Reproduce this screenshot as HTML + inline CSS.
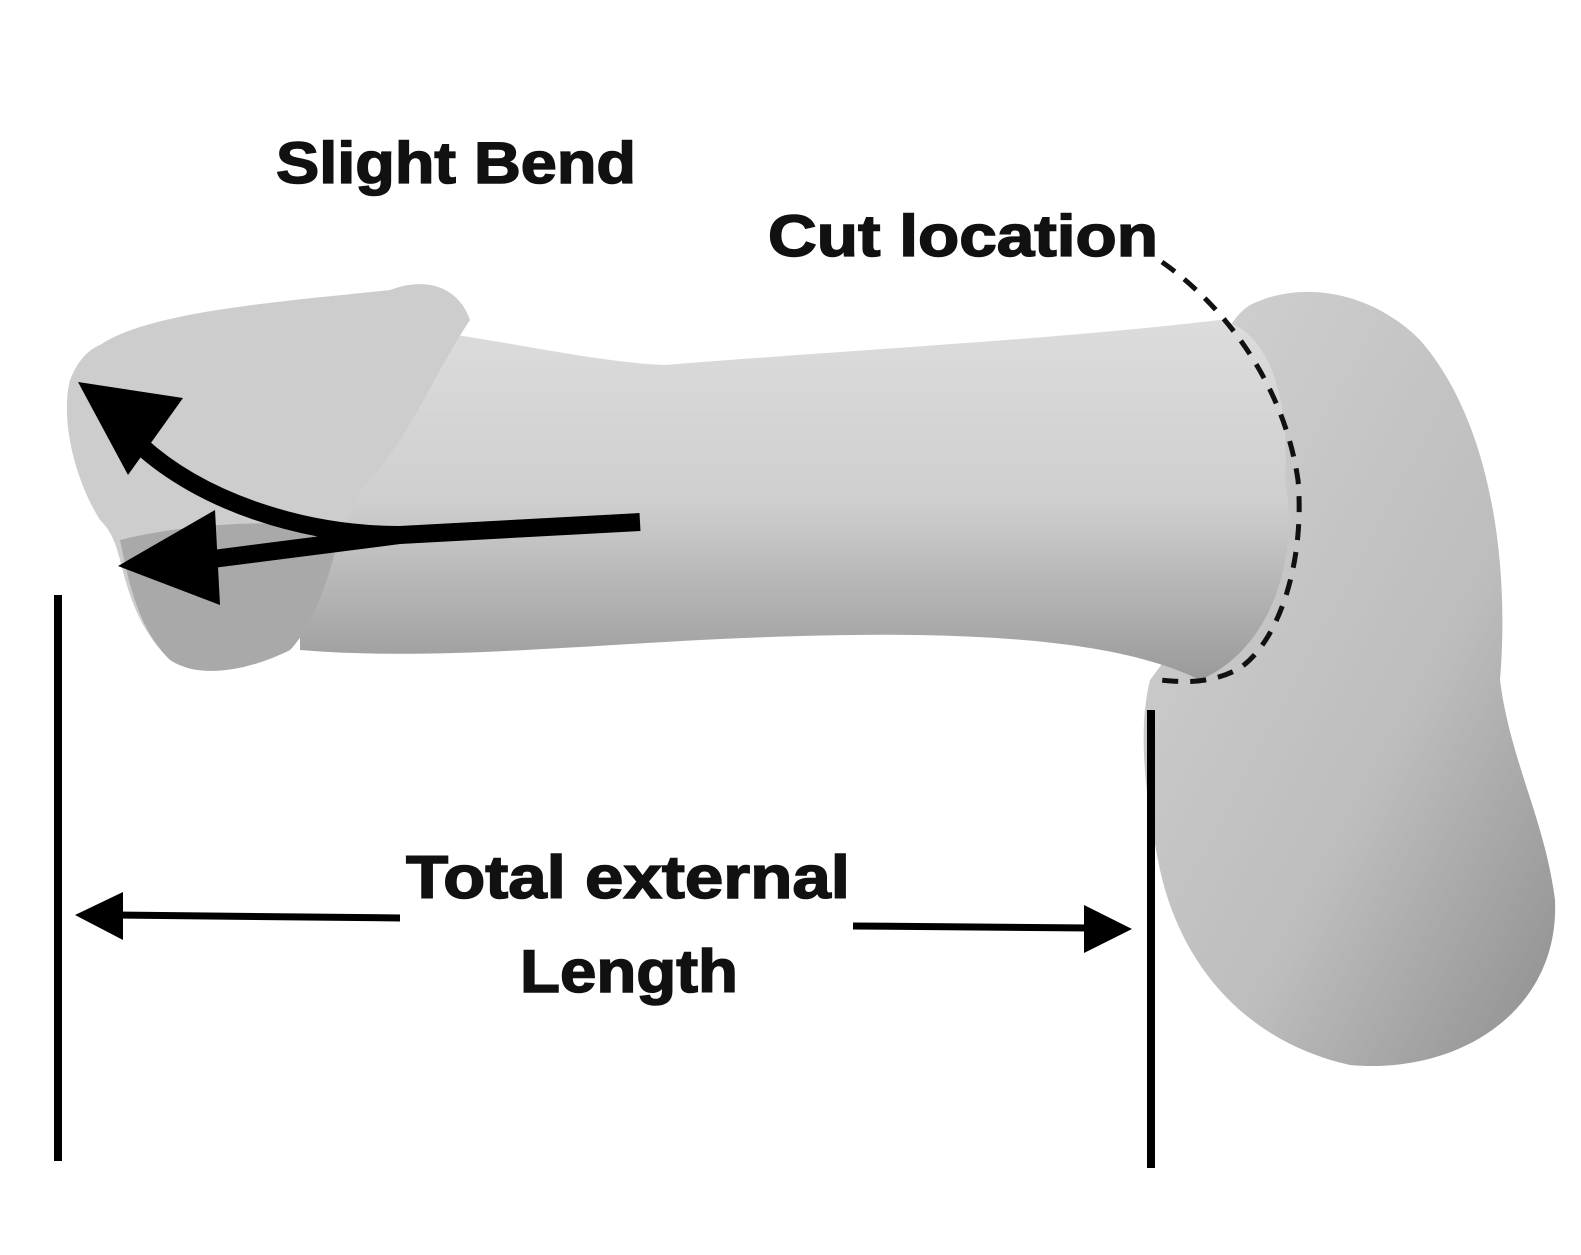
<!DOCTYPE html>
<html><head><meta charset="utf-8"><style>
html,body{margin:0;padding:0;background:#fff;}
svg{display:block;}
text{font-family:"Liberation Sans",sans-serif;font-weight:bold;fill:#111;}
</style></head><body>
<svg width="1581" height="1255" viewBox="0 0 1581 1255" xmlns="http://www.w3.org/2000/svg">
<defs>
<linearGradient id="g1" x1="0" y1="0" x2="0" y2="1">
<stop offset="0" stop-color="#dcdcdc"/><stop offset="0.5" stop-color="#cfcfcf"/><stop offset="1" stop-color="#9a9a9a"/>
</linearGradient>
<linearGradient id="g2" x1="0" y1="0" x2="1" y2="1">
<stop offset="0" stop-color="#d2d2d2"/><stop offset="0.6" stop-color="#bdbdbd"/><stop offset="1" stop-color="#8e8e8e"/>
</linearGradient>
</defs>
<path d="M1150,680 C1135,740 1150,820 1160,870 C1180,960 1240,1040 1350,1065 C1460,1075 1560,1010 1555,900 C1545,820 1510,760 1500,680 C1510,560 1490,420 1420,340 C1370,290 1300,280 1250,305 C1210,330 1200,420 1220,500 C1210,600 1180,640 1150,680 Z" fill="url(#g2)"/>
<path d="M300,330 C400,310 550,360 665,365 C850,350 1050,340 1220,320 C1270,330 1290,400 1285,480 C1300,560 1270,650 1200,680 C1100,630 900,630 700,640 C550,648 420,660 300,650 Z" fill="url(#g1)"/>
<path d="M100,345 C150,310 300,300 390,290 C430,275 460,290 470,320 C430,380 410,440 360,490 C330,560 310,630 290,650 C250,670 200,680 170,660 C140,630 130,600 120,560 C115,540 110,530 100,520 C75,480 60,420 70,380 C78,360 88,350 100,345 Z" fill="#cdcdcd"/>
<path d="M120,540 C200,520 300,520 340,530 C330,580 310,630 290,650 C250,670 200,680 170,660 C140,630 130,590 120,540 Z" fill="#a9a9a9"/>
<path d="M1162,262 C1230,310 1285,390 1298,480 C1305,560 1280,640 1240,668 C1210,685 1180,682 1160,680" fill="none" stroke="#111" stroke-width="5" stroke-dasharray="16,12"/>
<path d="M640,522 C560,526 480,530 400,535 C300,535 200,500 140,445" fill="none" stroke="#000" stroke-width="18"/>
<polygon points="78,382 183,398 128,475" fill="#000"/>
<path d="M400,535 L205,560" fill="none" stroke="#000" stroke-width="18"/>
<polygon points="118,566 215,510 220,605" fill="#000"/>
<rect x="54" y="595" width="8" height="566" fill="#000"/>
<rect x="1147" y="710" width="8" height="458" fill="#000"/>
<line x1="400" y1="918" x2="115" y2="915" stroke="#000" stroke-width="7"/>
<polygon points="75,915 123,892 123,940" fill="#000"/>
<line x1="853" y1="926" x2="1090" y2="928" stroke="#000" stroke-width="7"/>
<polygon points="1132,929 1084,905 1084,953" fill="#000"/>
<text x="276" y="183" font-size="58" textLength="360" lengthAdjust="spacingAndGlyphs" stroke="#111" stroke-width="1.5">Slight Bend</text>
<text x="768" y="256" font-size="58" textLength="390" lengthAdjust="spacingAndGlyphs" stroke="#111" stroke-width="1.5">Cut location</text>
<text x="406" y="898" font-size="60" textLength="444" lengthAdjust="spacingAndGlyphs" stroke="#111" stroke-width="1.5">Total external</text>
<text x="520" y="992" font-size="60" textLength="218" lengthAdjust="spacingAndGlyphs" stroke="#111" stroke-width="1.5">Length</text>
</svg>
</body></html>
